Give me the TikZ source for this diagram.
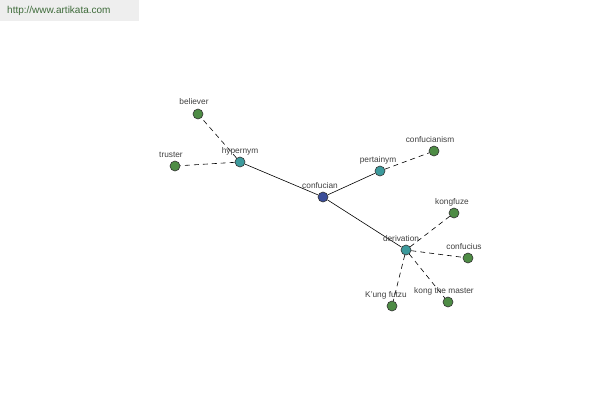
\documentclass[tikz,border=0pt]{standalone}
\usepackage{fontspec}
\setmainfont{Liberation Sans}
\begin{document}
\begin{tikzpicture}[x=1pt,y=-1pt,
  dot/.style={circle,draw=black!80,line width=0.6pt,minimum size=10pt,inner sep=0pt},
  core/.style={dot,fill=coreblue},
  rel/.style={dot,fill=relteal},
  leaf/.style={dot,fill=leafgreen},
  lbl/.style={font=\fontsize{8.3}{9}\selectfont,text=black!75,inner sep=0pt},
  solidlink/.style={draw=black,line width=0.6pt},
  dashlink/.style={draw=black,line width=0.6pt,dash pattern=on 5pt off 4pt}]
\definecolor{coreblue}{HTML}{3B4E9A}
\definecolor{relteal}{HTML}{3C9A9C}
\definecolor{leafgreen}{HTML}{4E8C45}
\definecolor{hdrgray}{HTML}{EEEEEE}
\definecolor{hdrtext}{HTML}{3E6B3A}
\useasboundingbox (0,0) rectangle (600,400);
\fill[white] (0,0) rectangle (600,400);
\fill[hdrgray] (0,0) rectangle (139,21);
\node[font=\fontsize{10}{12}\selectfont,text=hdrtext,anchor=west,inner sep=0pt] (hdr) at (7,11) {http://www.artikata.com};
% nodes
\node[core] (confucian) at (323,197) {};
\node[rel] (hypernym) at (240,162) {};
\node[rel] (pertainym) at (380,171) {};
\node[rel] (derivation) at (406,250) {};
\node[leaf] (believer) at (198,114) {};
\node[leaf] (truster) at (175,166) {};
\node[leaf] (confucianism) at (434,151) {};
\node[leaf] (kongfuze) at (454,213) {};
\node[leaf] (confucius) at (468,258) {};
\node[leaf] (kungfutzu) at (392,306) {};
\node[leaf] (kongmaster) at (448,302) {};
% edges
\draw[solidlink] (confucian) -- (hypernym);
\draw[solidlink] (confucian) -- (pertainym);
\draw[solidlink] (confucian) -- (derivation);
\draw[dashlink] (hypernym) -- (believer);
\draw[dashlink] (hypernym) -- (truster);
\draw[dashlink] (pertainym) -- (confucianism);
\draw[dashlink] (derivation) -- (kongfuze);
\draw[dashlink] (derivation) -- (confucius);
\draw[dashlink] (derivation) -- (kungfutzu);
\draw[dashlink] (derivation) -- (kongmaster);
% labels
\node[lbl] (lconfucian) at (320,186) {confucian};
\node[lbl] (lhypernym) at (240,151) {hypernym};
\node[lbl] (lpertainym) at (378,160) {pertainym};
\node[lbl] (lderivation) at (401,239) {derivation};
\node[lbl] (lbeliever) at (194,102) {believer};
\node[lbl] (ltruster) at (171,155) {truster};
\node[lbl] (lconfucianism) at (430,140) {confucianism};
\node[lbl] (lkongfuze) at (452,202) {kongfuze};
\node[lbl] (lconfucius) at (464,247) {confucius};
\node[lbl] (lkungfutzu) at (386,295) {K'ung futzu};
\node[lbl] (lkongmaster) at (444,291) {kong the master};
\end{tikzpicture}
\end{document}
